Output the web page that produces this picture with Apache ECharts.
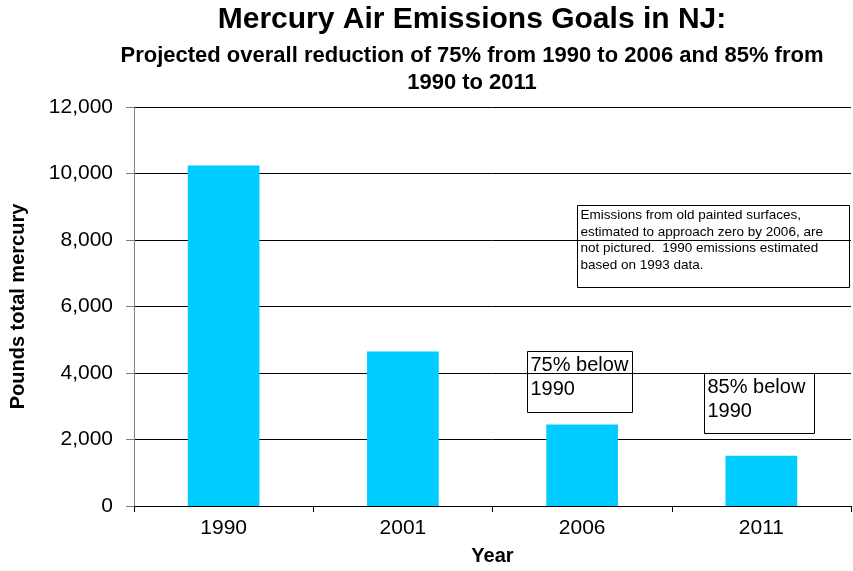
<!DOCTYPE html>
<html>
<head>
<meta charset="utf-8">
<script src="https://cdn.jsdelivr.net/npm/echarts@6/dist/echarts.min.js"></script>
<style>
  html, body { margin: 0; padding: 0; background: #fff; }
  #chart { width: 853px; height: 571px; }
</style>
</head>
<body>
<div id="chart"></div>
<script>
// data
const years = ['1990', '2001', '2006', '2011'];
const emissions = [10240, 4650, 2450, 1510];
const yTicks = [0, 2000, 4000, 6000, 8000, 10000, 12000];

const FONT = 'Arial, "Liberation Sans", sans-serif';

const chart = echarts.init(document.getElementById('chart'));

const option = {
  animation: false,
  backgroundColor: '#fff',
  title: {
    text: 'Mercury Air Emissions Goals in NJ:',
    subtext: 'Projected overall reduction of 75% from 1990 to 2006 and 85% from\n1990 to 2011',
    left: 467,
    top: 0,
    textAlign: 'center',
    itemGap: 7,
    textStyle: { fontFamily: FONT, fontSize: 30, fontWeight: 'bold', color: '#000' },
    subtextStyle: { fontFamily: FONT, fontSize: 22, fontWeight: 'bold', color: '#000', lineHeight: 27, align: 'center' }
  },
  grid: { left: 132, right: 2, top: 107, bottom: 64, containLabel: false },
  xAxis: {
    type: 'category',
    data: years,
    name: 'Year',
    nameLocation: 'middle',
    nameGap: 40,
    nameTextStyle: { fontFamily: FONT, fontSize: 20, fontWeight: 'bold', color: '#000' },
    axisLine: { lineStyle: { color: '#000', width: 1 } },
    axisTick: { show: true, length: 6, lineStyle: { color: '#000' } },
    axisLabel: { fontFamily: FONT, fontSize: 21, color: '#000', margin: 12 },
    splitLine: { show: false }
  },
  yAxis: {
    type: 'value',
    min: 0,
    max: yTicks[yTicks.length - 1],
    interval: 2000,
    name: 'Pounds total mercury',
    nameLocation: 'middle',
    nameGap: 106,
    nameTextStyle: { fontFamily: FONT, fontSize: 20, fontWeight: 'bold', color: '#000' },
    axisLine: { show: true, lineStyle: { color: '#808080', width: 1 } },
    axisTick: { show: true, length: 8, inside: false, lineStyle: { color: '#808080' } },
    axisLabel: {
      fontFamily: FONT, fontSize: 21, color: '#000', margin: 21,
      formatter: v => v.toLocaleString('en-US')
    },
    splitLine: { show: true, lineStyle: { color: '#000', width: 1 } }
  },
  series: [{
    type: 'bar',
    data: emissions,
    barWidth: '40%',
    itemStyle: { color: '#00CCFF' },
    z: 2
  }],
  graphic: [
    {
      type: 'group', left: 577, top: 205, z: 10,
      children: [
        { type: 'rect', shape: { x: 0, y: 0, width: 272, height: 82 },
          style: { fill: '#fff', stroke: '#000', lineWidth: 1 } },
        { type: 'text', x: 3, y: 2,
          style: {
            text: 'Emissions from old painted surfaces,\nestimated to approach zero by 2006, are\nnot pictured.  1990 emissions estimated\nbased on 1993 data.',
            font: '13.5px ' + FONT, fill: '#000', lineHeight: 16.5
          } }
      ]
    },
    {
      type: 'group', left: 527, top: 351, z: 10,
      children: [
        { type: 'rect', shape: { x: 0, y: 0, width: 105, height: 61 },
          style: { fill: '#fff', stroke: '#000', lineWidth: 1 } },
        { type: 'text', x: 3, y: 2,
          style: { text: '75% below\n1990', font: '20px ' + FONT, fill: '#000', lineHeight: 24 } }
      ]
    },
    {
      type: 'group', left: 704, top: 373, z: 10,
      children: [
        { type: 'rect', shape: { x: 0, y: 0, width: 110, height: 60 },
          style: { fill: '#fff', stroke: '#000', lineWidth: 1 } },
        { type: 'text', x: 3, y: 2,
          style: { text: '85% below\n1990', font: '20px ' + FONT, fill: '#000', lineHeight: 24 } }
      ]
    }
  ]
};

chart.setOption(option);
</script>
</body>
</html>
